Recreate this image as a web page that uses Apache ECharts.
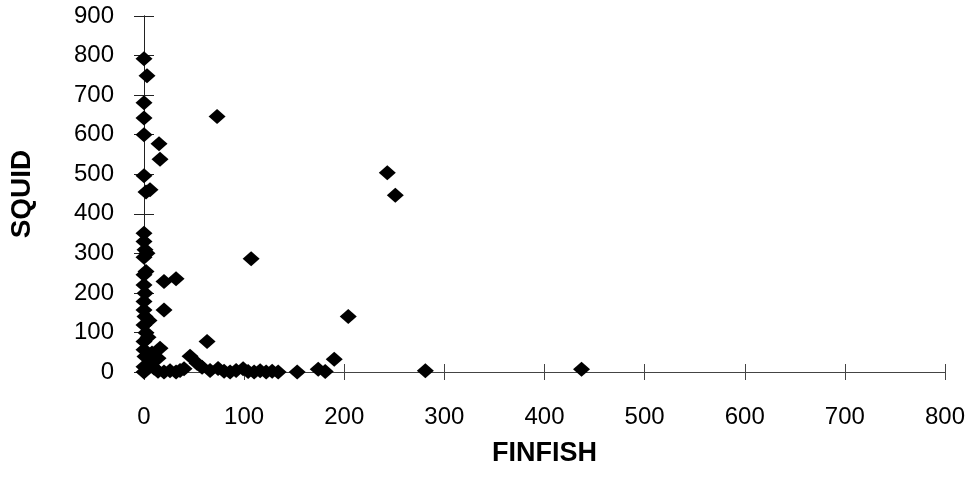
<!DOCTYPE html>
<html>
<head>
<meta charset="utf-8">
<script src="https://cdn.jsdelivr.net/npm/echarts@6/dist/echarts.min.js"></script>
<style>
html,body{margin:0;padding:0;background:#fff;}
#c{width:973px;height:477px;}
</style>
</head>
<body>
<div id="c"></div>
<script>
var xTicks = [0, 100, 200, 300, 400, 500, 600, 700, 800];
var yTicks = [0, 100, 200, 300, 400, 500, 600, 700, 800, 900];
var finfish = [0, 3, 0, 0, 0, 73, 15, 16, 0, 2, 6, 243, 251, 107, 204,
  0, 0, 1, 0, 2, 0, 0, 1, 0, 0, 1, 0, 2, 0, 0, 1, 0, 0,
  20, 32, 20, 63, 16, 14, 8, 6, 10, 4, 5, 3,
  46, 40, 53, 58, 66, 74, 80, 86, 92, 99, 104, 110, 116, 122, 128, 134,
  153, 174, 181, 190, 281, 437, 14, 20, 26, 32, 36];
var squid = [792, 749, 681, 642, 600, 646, 577, 538, 496, 455, 461, 504, 447, 286, 140,
  351, 330, 309, 290, 254, 246, 220, 199, 178, 157, 140, 119, 99, 77, 56, 39, 13, 0,
  229, 236, 157, 77, 60, 35, 48, 25, 10, 88, 130, 300,
  40, 8, 22, 12, 4, 9, 2, 0, 4, 8, 1, 0, 3, 0, 2, 0,
  0, 7, 1, 32, 3, 7, 2, 0, 3, 0, 4];

var pts = finfish.map(function (v, i) { return [v, squid[i]]; });
var font = 'Liberation Sans, Arial, Helvetica, sans-serif';
var chart = echarts.init(document.getElementById('c'), null, {renderer: 'canvas'});
function xAx(inside, labels) {
  return {
    type: 'value', min: xTicks[0], max: xTicks[xTicks.length - 1], interval: 100,
    position: 'bottom',
    name: labels ? 'FINFISH' : '', nameLocation: 'middle', nameGap: 68,
    nameTextStyle: {fontFamily: font, fontWeight: 'bold', fontSize: 27, color: '#000'},
    axisLine: {show: true, onZero: false, lineStyle: {color: '#444', width: 1}},
    axisTick: {show: true, inside: inside, length: 8, lineStyle: {color: '#444', width: 1}},
    axisLabel: {show: labels, margin: 33, fontFamily: font, fontSize: 24, color: '#000'},
    splitLine: {show: false}
  };
}
function yAx(inside, labels) {
  return {
    type: 'value', min: yTicks[0], max: yTicks[yTicks.length - 1], interval: 100,
    position: 'left',
    name: labels ? 'SQUID' : '', nameLocation: 'middle', nameGap: 108, nameRotate: 90,
    nameTextStyle: {fontFamily: font, fontWeight: 'bold', fontSize: 28, color: '#000'},
    axisLine: {show: true, onZero: false, lineStyle: {color: '#222', width: 1}},
    axisTick: {show: true, inside: inside, length: 10, lineStyle: {color: '#222', width: 1}},
    axisLabel: {show: labels, margin: 30, fontFamily: font, fontSize: 24, color: '#000'},
    splitLine: {show: false}
  };
}
chart.setOption({
  animation: false,
  backgroundColor: '#fff',
  grid: {left: 143, right: 28, top: 16, bottom: 105, containLabel: false},
  xAxis: [xAx(false, true), xAx(true, false)],
  yAxis: [yAx(false, true), yAx(true, false)],
  series: [{
    type: 'scatter', xAxisIndex: 0, yAxisIndex: 0,
    data: pts, symbol: 'diamond', symbolSize: [17, 15], clip: false,
    itemStyle: {color: '#000', opacity: 1}
  }]
});
</script>
</body>
</html>
